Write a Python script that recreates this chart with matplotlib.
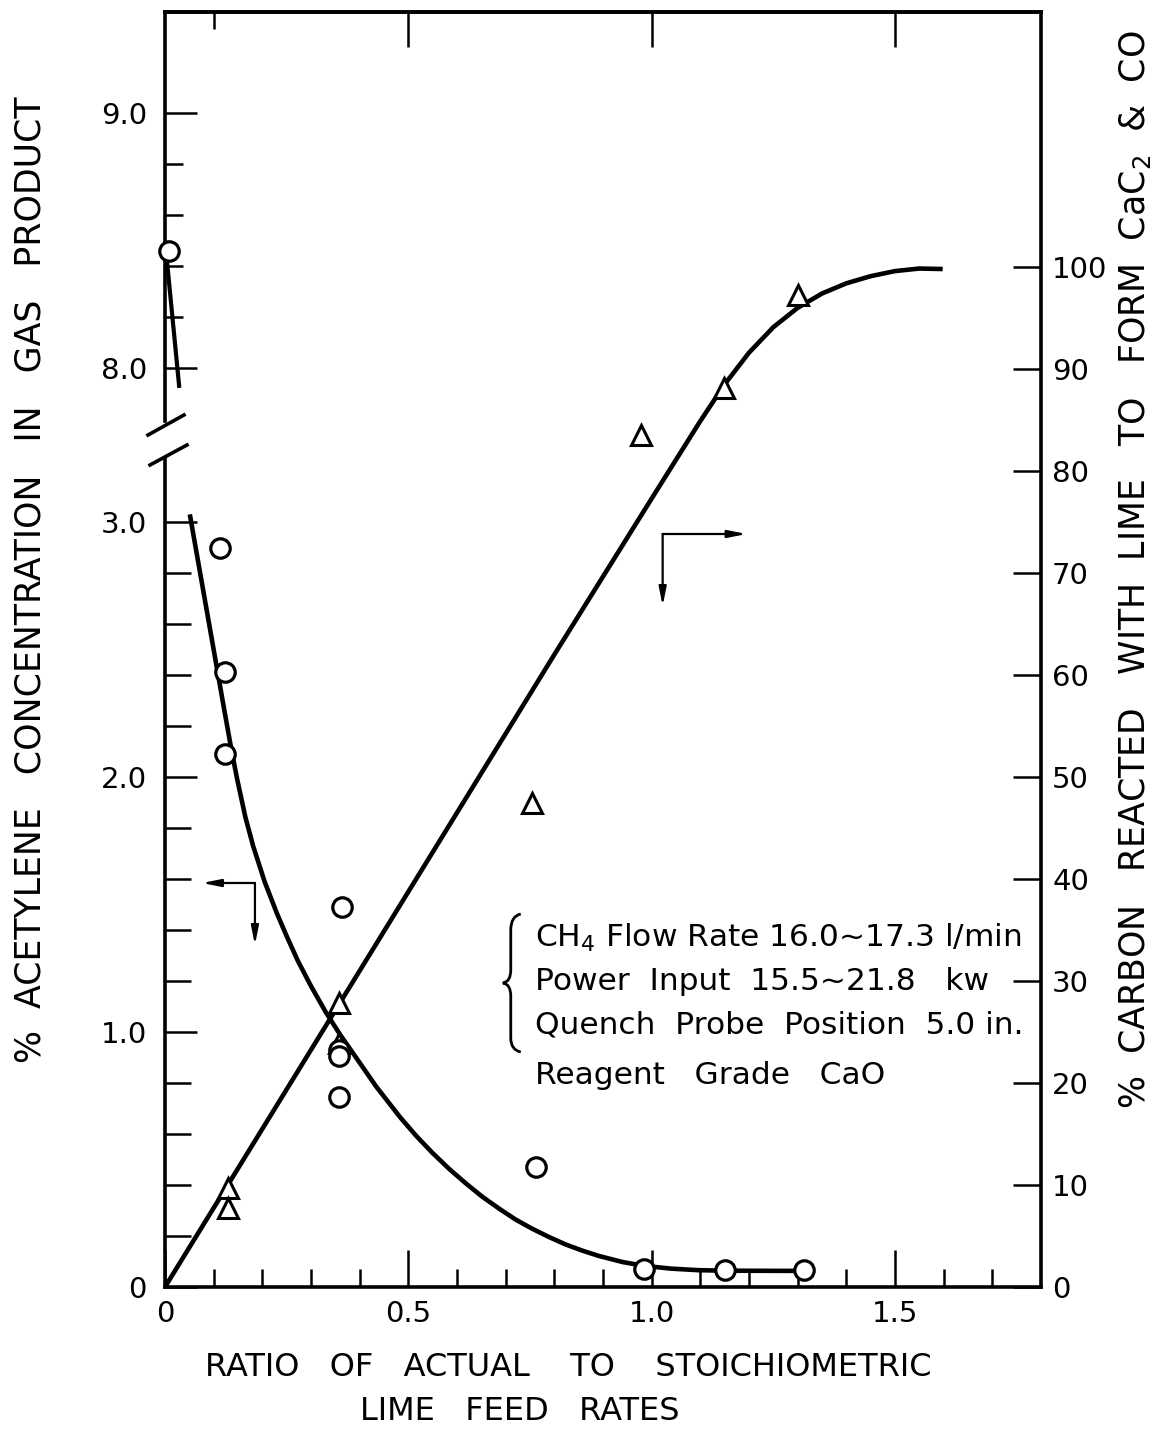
import matplotlib
matplotlib.use('Agg')
import matplotlib.pyplot as plt
from matplotlib.path import Path
from matplotlib.patches import PathPatch
from matplotlib.ticker import FixedLocator

plt.rcParams['font.family'] = ['DejaVu Sans']

# values
# circles: % acetylene in gas product (left axis)
circ_ratio = [0.113, 0.123, 0.123, 0.364, 0.357, 0.357, 0.357, 0.762, 0.984, 1.150, 1.312]
circ_acetylene = [2.90, 2.41, 2.09, 1.49, 0.93, 0.905, 0.745, 0.47, 0.07, 0.065, 0.065]
# the one point above the axis break
circ_hi_ratio = [0.008]
circ_hi_acetylene = [8.46]
hi_line_ratio = [0.004, 0.029]
hi_line_acetylene = [8.42, 7.93]

# triangles: % carbon reacted with lime (right axis)
tri_ratio = [0.129, 0.129, 0.357, 0.357, 0.754, 0.979, 1.148, 1.300]
tri_carbon = [9.7, 7.7, 27.8, 23.9, 47.5, 83.5, 88.1, 97.3]

# hand drawn curves, traced point by point
acet_curve_x = [0.051, 0.075, 0.099, 0.123, 0.136, 0.148, 0.165, 0.181, 0.205, 0.230,
                0.250, 0.273, 0.300, 0.330, 0.360, 0.386, 0.434, 0.483, 0.516, 0.549,
                0.584, 0.619, 0.652, 0.686, 0.720, 0.754, 0.789, 0.823, 0.857, 0.891,
                0.940, 0.984, 1.040, 1.096, 1.150, 1.310]
acet_curve_y = [3.03, 2.77, 2.51, 2.25, 2.112, 1.994, 1.844, 1.730, 1.588, 1.465,
                1.376, 1.279, 1.180, 1.079, 0.989, 0.918, 0.786, 0.666, 0.593, 0.527,
                0.463, 0.405, 0.354, 0.308, 0.265, 0.229, 0.196, 0.167, 0.143, 0.122,
                0.098, 0.083, 0.072, 0.066, 0.064, 0.063]
carbon_curve_x = [0, 0.2, 0.4, 0.6, 0.8, 1.0, 1.05, 1.10, 1.15, 1.20, 1.25, 1.30,
                  1.35, 1.40, 1.45, 1.50, 1.55, 1.598]
carbon_curve_y = [0, 15.5, 31, 46.5, 62, 77.3, 81.1, 84.9, 88.5, 91.6, 94.1, 96.0,
                  97.4, 98.4, 99.1, 99.6, 99.85, 99.8]

x_ticks = [0, 0.5, 1.0, 1.5]
x_tick_labels = ['0', '0.5', '1.0', '1.5']
lo_ticks = [0, 1, 2, 3]
lo_tick_labels = ['0', '1.0', '2.0', '3.0']
hi_ticks = [8, 9]
hi_tick_labels = ['8.0', '9.0']
right_ticks = list(range(0, 101, 10))

W_PX, H_PX = 1156, 1431
FS = 21
LABEL_FS = 25
LW_SPINE = 2.6


def fig_rect(left, top, right, bottom):
    return [left / W_PX, 1 - bottom / H_PX, (right - left) / W_PX, (bottom - top) / H_PX]


def px_to_data(x, y):
    # pixel position -> data coords of the right-hand axes
    return (x - 165) / 487.0, (1287 - y) / 10.2


fig = plt.figure(figsize=(W_PX / 100, H_PX / 100), dpi=100)

ax_r = fig.add_axes(fig_rect(165, 12, 1041, 1287))
ax_lo = fig.add_axes(fig_rect(165, 459, 1041, 1287))
ax_hi = fig.add_axes(fig_rect(165, 12, 1041, 421))

for ax in (ax_r, ax_lo, ax_hi):
    ax.set_xlim(0, 1.8)
ax_r.set_ylim(0, 125)
ax_lo.set_ylim(0, 828 / 255)
ax_hi.set_ylim(9.396 - 409 / 255, 9.396)

# right axes carries the box
ax_r.spines['left'].set_visible(False)
for s in ('top', 'right', 'bottom'):
    ax_r.spines[s].set_linewidth(LW_SPINE)
ax_r.set_xticks(x_ticks, labels=x_tick_labels)
ax_r.xaxis.set_minor_locator(FixedLocator([i / 10 for i in range(1, 18) if i % 5]))
ax_r.tick_params(axis='x', which='major', direction='in', length=27, width=1.8,
                 labelsize=FS, pad=9, top=False)
ax_r.tick_params(axis='x', which='minor', direction='in', length=13, width=1.8, top=False)
ax_r.yaxis.tick_right()
ax_r.set_yticks(right_ticks)
ax_r.tick_params(axis='y', direction='in', length=20, width=1.8, labelsize=FS, pad=8)

top = ax_r.secondary_xaxis('top')
top.set_xticks([0.5, 1.0, 1.5], labels=['', '', ''])
top.xaxis.set_minor_locator(FixedLocator([0.1]))
top.tick_params(which='major', direction='in', length=25, width=1.8)
top.tick_params(which='minor', direction='in', length=12, width=1.8)
top.spines['top'].set_linewidth(LW_SPINE)

for ax in (ax_lo, ax_hi):
    ax.patch.set_visible(False)
    for s in ('top', 'right', 'bottom'):
        ax.spines[s].set_visible(False)
    ax.spines['left'].set_linewidth(LW_SPINE)
    ax.set_xticks([])

ax_lo.set_yticks(lo_ticks, labels=lo_tick_labels)
ax_lo.yaxis.set_minor_locator(FixedLocator([i / 10 for i in range(2, 30, 2) if i % 10]))
ax_lo.tick_params(axis='y', which='major', direction='in', length=23, width=1.8,
                  labelsize=FS, pad=13)
ax_lo.tick_params(axis='y', which='minor', direction='in', length=19, width=1.8)

ax_hi.set_yticks(hi_ticks, labels=hi_tick_labels)
ax_hi.yaxis.set_minor_locator(FixedLocator([8.2, 8.4, 8.6, 8.8]))
ax_hi.tick_params(axis='y', which='major', direction='in', length=23, width=1.8,
                  labelsize=FS, pad=13)
ax_hi.tick_params(axis='y', which='minor', direction='in', length=13, width=1.8)

# curves and points
ax_r.plot(carbon_curve_x, carbon_curve_y, color='black', lw=3.3,
          solid_capstyle='butt', solid_joinstyle='round')
ax_r.plot(tri_ratio, tri_carbon, ls='none', marker='^', ms=15, mew=2.2,
          mfc='white', mec='black', zorder=5)

ax_lo.plot(acet_curve_x, acet_curve_y, color='black', lw=3.3,
           solid_capstyle='butt', solid_joinstyle='round')
ax_lo.plot(circ_ratio, circ_acetylene, ls='none', marker='o', ms=14, mew=2.3,
           mfc='white', mec='black', zorder=5, clip_on=False)

ax_hi.plot(hi_line_ratio, hi_line_acetylene, color='black', lw=3.0, clip_on=False)
ax_hi.plot(circ_hi_ratio, circ_hi_acetylene, ls='none', marker='o', ms=14, mew=2.3,
           mfc='white', mec='black', zorder=5, clip_on=False)

# axis break marks
for (x0, y0), (x1, y1) in [((148, 435), (184, 415)), ((150, 465), (187, 445))]:
    a = px_to_data(x0, y0)
    b = px_to_data(x1, y1)
    ax_r.plot([a[0], b[0]], [a[1], b[1]], color='black', lw=2.6, clip_on=False)

# which-axis arrows
arrow = dict(arrowstyle='-|>,head_length=1.1,head_width=0.22', lw=1.6,
             color='black', shrinkA=0, shrinkB=0)
for corner, ends in [((255, 883), [(202, 883), (255, 945)]),
                     ((663, 534), [(747, 534), (663, 606)])]:
    c = px_to_data(*corner)
    for e in ends:
        ax_r.annotate('', xy=px_to_data(*e), xytext=c, arrowprops=arrow)

# brace
brace_px = [(521, 914), (511, 916), (511, 930), (511, 970), (511, 982), (503, 983),
            (511, 984), (511, 996), (511, 1038), (511, 1050), (521, 1052)]
codes = [Path.MOVETO, Path.CURVE3, Path.CURVE3, Path.LINETO, Path.CURVE3, Path.CURVE3,
         Path.CURVE3, Path.CURVE3, Path.LINETO, Path.CURVE3, Path.CURVE3]
brace = Path([px_to_data(*p) for p in brace_px], codes)
ax_r.add_patch(PathPatch(brace, fill=False, lw=2.0, color='black', clip_on=False))

notes = ['CH$_4$ Flow Rate 16.0~17.3 l/min',
         'Power  Input  15.5~21.8   kw',
         'Quench  Probe  Position  5.0 in.',
         'Reagent   Grade   CaO']
for txt, ypx in zip(notes, [938, 982, 1025, 1075]):
    tx, ty = px_to_data(535, ypx)
    ax_r.text(tx, ty, txt, fontsize=22.5, ha='left', va='center')

# axis titles
fig.text(568 / W_PX, 1 - 1368 / H_PX, 'RATIO   OF   ACTUAL    TO    STOICHIOMETRIC',
         fontsize=23, ha='center', va='center')
fig.text(520 / W_PX, 1 - 1412 / H_PX, 'LIME   FEED   RATES',
         fontsize=23, ha='center', va='center')
fig.text(31 / W_PX, 1 - 580 / H_PX,
         '%  ACETYLENE   CONCENTRATION   IN   GAS   PRODUCT',
         fontsize=LABEL_FS, rotation=90, ha='center', va='center')
fig.text(1135 / W_PX, 1 - 570 / H_PX,
         '%  CARBON   REACTED   WITH  LIME   TO   FORM  CaC$_2$  &  CO',
         fontsize=LABEL_FS, rotation=90, ha='center', va='center')

fig.savefig('out.png', dpi=100)
